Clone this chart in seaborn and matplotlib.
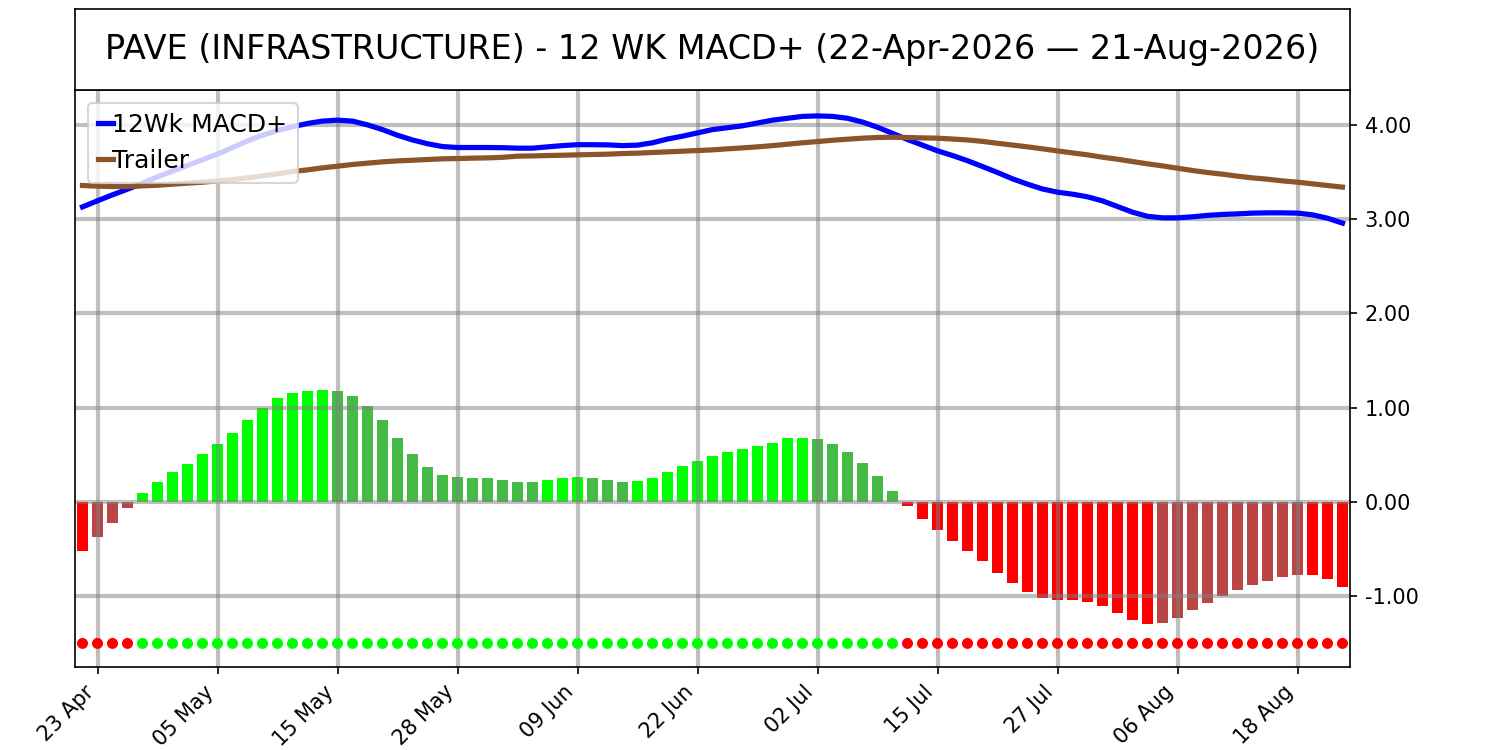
import numpy as np
import pandas as pd
import seaborn as sns
import matplotlib.pyplot as plt
from matplotlib.ticker import FormatStrFormatter

title = "PAVE (INFRASTRUCTURE) - 12 WK MACD+ (22-Apr-2026 \u2014 21-Aug-2026)"

# tick labels (every 8th trading day, starting at the 2nd)
tick_labels = ["23 Apr", "05 May", "15 May", "28 May", "09 Jun", "22 Jun",
               "02 Jul", "15 Jul", "27 Jul", "06 Aug", "18 Aug"]

# histogram values, one per trading day
hist = [-0.525, -0.376, -0.227, -0.067, 0.096, 0.216, 0.323, 0.408, 0.504, 0.610,
        0.727, 0.865, 0.993, 1.099, 1.152, 1.174, 1.184, 1.174, 1.121, 1.014,
        0.865, 0.684, 0.514, 0.376, 0.291, 0.270, 0.259, 0.259, 0.238, 0.216,
        0.214, 0.238, 0.259, 0.270, 0.259, 0.238, 0.216, 0.218, 0.259, 0.323,
        0.387, 0.440, 0.493, 0.525, 0.557, 0.589, 0.631, 0.674, 0.684, 0.663,
        0.610, 0.535, 0.418, 0.280, 0.121, -0.046, -0.184, -0.301, -0.418, -0.525,
        -0.631, -0.748, -0.855, -0.950, -1.014, -1.035, -1.040, -1.057, -1.099, -1.174,
        -1.248, -1.291, -1.280, -1.227, -1.142, -1.067, -0.993, -0.929, -0.876, -0.833,
        -0.791, -0.770, -0.775, -0.812, -0.897]

# 12Wk MACD+ line
macd = [3.130, 3.195, 3.258, 3.318, 3.380, 3.450, 3.510, 3.570, 3.630, 3.690,
        3.760, 3.830, 3.890, 3.940, 3.980, 4.015, 4.040, 4.050, 4.040, 4.000,
        3.950, 3.890, 3.840, 3.800, 3.770, 3.760, 3.760, 3.760, 3.758, 3.753,
        3.753, 3.767, 3.780, 3.790, 3.790, 3.788, 3.780, 3.785, 3.810, 3.850,
        3.880, 3.915, 3.950, 3.970, 3.990, 4.020, 4.050, 4.070, 4.090, 4.095,
        4.090, 4.070, 4.030, 3.975, 3.910, 3.845, 3.785, 3.725, 3.675, 3.620,
        3.558, 3.495, 3.428, 3.371, 3.320, 3.286, 3.265, 3.237, 3.194, 3.134,
        3.074, 3.030, 3.014, 3.014, 3.025, 3.040, 3.050, 3.056, 3.064, 3.067,
        3.067, 3.064, 3.046, 3.010, 2.958]

# Trailer line
trailer = [3.357, 3.350, 3.346, 3.346, 3.353, 3.360, 3.371, 3.382, 3.392, 3.406,
           3.420, 3.438, 3.459, 3.481, 3.505, 3.523, 3.544, 3.562, 3.580, 3.594,
           3.608, 3.618, 3.625, 3.633, 3.640, 3.643, 3.647, 3.650, 3.656, 3.668,
           3.671, 3.675, 3.678, 3.682, 3.686, 3.689, 3.696, 3.700, 3.707, 3.714,
           3.721, 3.728, 3.735, 3.746, 3.756, 3.767, 3.780, 3.795, 3.810, 3.823,
           3.837, 3.848, 3.859, 3.866, 3.869, 3.866, 3.862, 3.859, 3.850, 3.840,
           3.825, 3.805, 3.786, 3.767, 3.746, 3.724, 3.703, 3.682, 3.657, 3.636,
           3.611, 3.587, 3.565, 3.540, 3.516, 3.495, 3.477, 3.456, 3.438, 3.424,
           3.406, 3.392, 3.375, 3.357, 3.340]

idx = np.arange(len(hist))
df = pd.DataFrame({"i": idx, "hist": hist, "macd": macd, "trailer": trailer})

# bar colour: bright when moving away from zero, muted when moving back
prev = df["hist"].shift(1)
def bar_color(h, p):
    if h >= 0:
        return "#00ff00" if (pd.isna(p) or h > p) else "#44bb44"
    return "#ff0000" if (pd.isna(p) or h < p) else "#bb4444"
df["bar_color"] = [bar_color(h, p) for h, p in zip(df["hist"], prev)]
df["sign"] = np.where(df["hist"] >= 0, "pos", "neg")
df["dot_y"] = -1.5

fig = plt.figure(figsize=(10, 5), dpi=150)
ax = fig.add_axes([0.05, 0.1107, 0.85, 0.7693])
tax = fig.add_axes([0.05, 0.88, 0.85, 0.108])

sns.barplot(data=df, x="i", y="hist", hue="i", native_scale=True,
            palette=dict(zip(df["i"], df["bar_color"])), saturation=1,
            width=0.7, linewidth=0, legend=False, errorbar=None, ax=ax)
sns.lineplot(data=df, x="i", y="macd", color="blue", linewidth=2.5,
             label="12Wk MACD+", ax=ax)
sns.lineplot(data=df, x="i", y="trailer", color="#8b552b", linewidth=2.5,
             label="Trailer", ax=ax)
sns.scatterplot(data=df, x="i", y="dot_y", hue="sign",
                palette={"pos": "#00ff00", "neg": "#ff0000"}, s=28,
                linewidth=0, legend=False, zorder=3, ax=ax)

ax.set_xlim(-0.5, len(hist) - 0.5)
ax.set_ylim(-1.75, 4.37)
ax.grid(True, color="gray", alpha=0.5, linewidth=2)
ax.set_axisbelow("line")
ax.set_xticks(range(1, len(hist), 8))
ax.set_xticklabels(tick_labels, rotation=45, ha="right")
ax.yaxis.tick_right()
ax.set_yticks([-1, 0, 1, 2, 3, 4])
ax.yaxis.set_major_formatter(FormatStrFormatter("%.2f"))
ax.set_xlabel("")
ax.set_ylabel("")
ax.legend(loc="upper left", fontsize=12, handlelength=0.6, handletextpad=0.0)

tax.set_xticks([])
tax.set_yticks([])
tax.text(0.5, 0.5, title, ha="center", va="center", fontsize=16,
         transform=tax.transAxes)

fig.savefig("out.png", dpi=150)
